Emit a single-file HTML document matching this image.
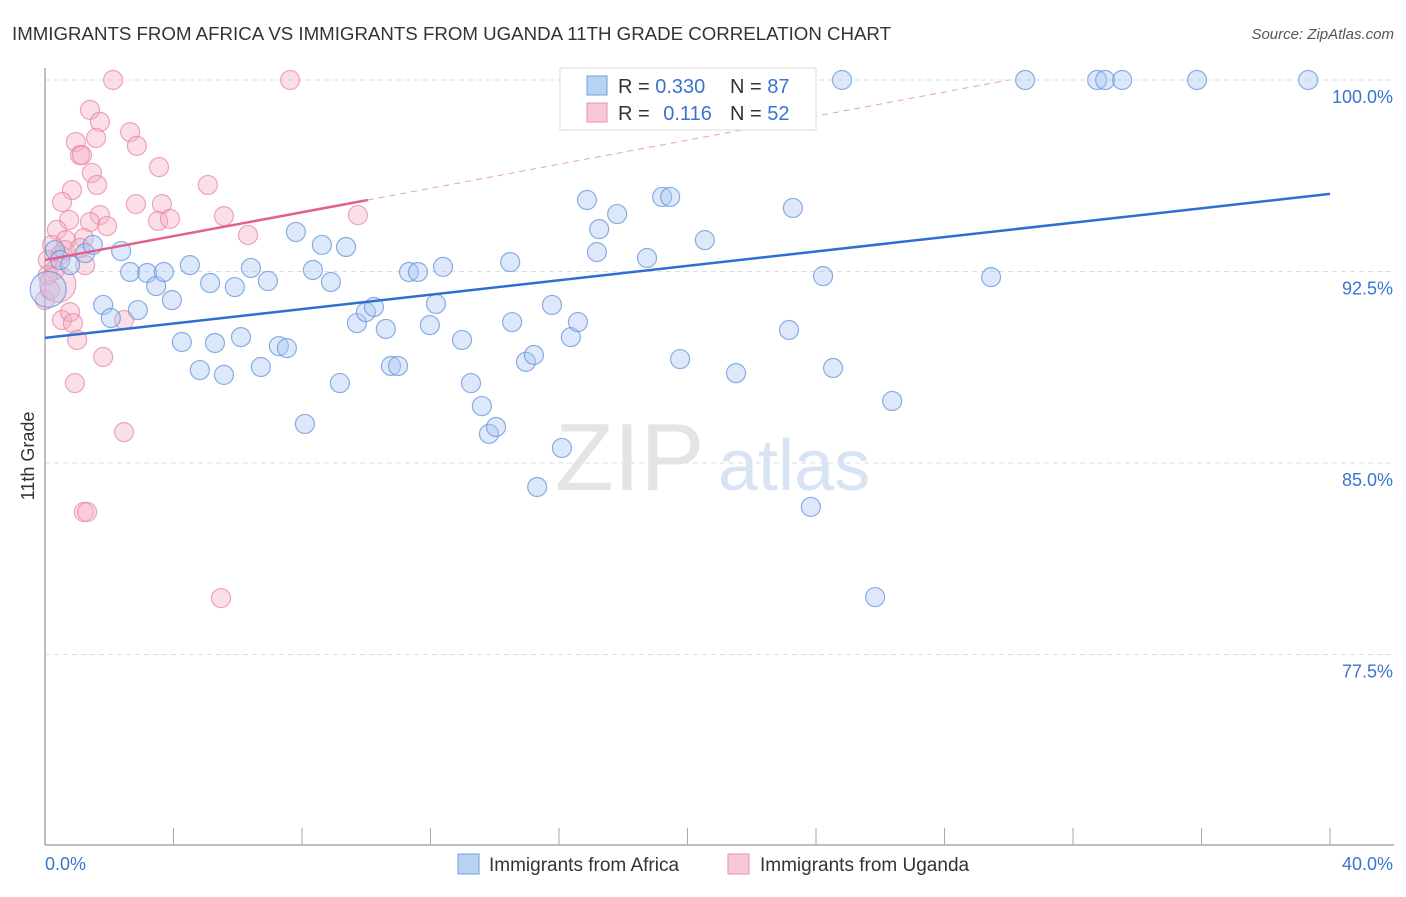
<!DOCTYPE html>
<html><head><meta charset="utf-8">
<style>
body{margin:0;background:#fff;font-family:"Liberation Sans",sans-serif;}
svg text{font-family:"Liberation Sans",sans-serif;}
</style></head>
<body>
<svg id="chart" width="1406" height="892" viewBox="0 0 1406 892" xmlns="http://www.w3.org/2000/svg">
<text x="12" y="40" font-size="18" fill="#333" textLength="879" lengthAdjust="spacingAndGlyphs">IMMIGRANTS FROM AFRICA VS IMMIGRANTS FROM UGANDA 11TH GRADE CORRELATION CHART</text>
<text x="1394" y="39" font-size="15" fill="#555" text-anchor="end" font-style="italic">Source: ZipAtlas.com</text>
<g id="grid"></g>
<g>
<text x="555" y="490" font-size="96" fill="#e4e4e4" font-family="Liberation Serif">ZIP</text>
<text x="718" y="490" font-size="72" fill="#d8e4f4">atlas</text>
</g>
<g id="axes"></g>
<g id="marks"></g>
<text transform="translate(34,456) rotate(-90)" font-size="18" fill="#333" text-anchor="middle">11th Grade</text>
<g>
<rect x="560" y="68" width="256" height="62" fill="#fff" stroke="#ddd"/>
<rect x="587" y="76" width="20" height="19" fill="#b8d2f4" stroke="#6e9ee0"/>
<text x="618" y="93" font-size="20" fill="#333">R = <tspan fill="#3a74d0">0.330</tspan></text>
<text x="730" y="93" font-size="20" fill="#333">N = <tspan fill="#3a74d0">87</tspan></text>
<rect x="587" y="103" width="20" height="19" fill="#f9c8d6" stroke="#ea8fae"/>
<text x="618" y="120" font-size="20" fill="#333">R = <tspan fill="#3a74d0" dx="8">0.116</tspan></text>
<text x="730" y="120" font-size="20" fill="#333">N = <tspan fill="#3a74d0">52</tspan></text>
</g>
<g>
<rect x="458" y="854" width="21" height="20" fill="#b8d2f4" stroke="#6e9ee0"/>
<text x="489" y="871" font-size="19" fill="#333">Immigrants from Africa</text>
<rect x="728" y="854" width="21" height="20" fill="#f9c8d6" stroke="#ea8fae"/>
<text x="760" y="871" font-size="19" fill="#333">Immigrants from Uganda</text>
</g>
</svg>
<script>
const yTicks=[100,92.5,85,77.5];
const yTickLabels=["100.0%","92.5%","85.0%","77.5%"];
const xEndLabels=["0.0%","40.0%"];
const africaX=[30.51,32.75,33.0,33.53,35.86,39.32,24.81,20.08,22.01,0.31,0.47,0.78,1.25,1.49,2.37,1.81,2.05,2.89,2.65,3.18,3.46,3.70,3.95,4.51,4.26,4.82,5.14,5.29,5.57,5.91,6.10,6.41,6.72,6.94,7.28,7.53,7.81,8.09,8.34,8.62,8.90,9.18,9.37,9.71,9.99,10.24,10.61,10.77,10.99,11.33,11.61,11.98,12.17,12.39,12.98,13.26,13.60,13.82,14.04,14.48,14.54,14.97,15.22,15.32,15.78,16.09,16.37,16.59,16.87,17.18,17.25,17.81,18.74,19.21,19.46,19.77,20.54,21.51,23.16,23.28,23.84,24.22,24.53,25.84,26.37,29.45,0.1];
const africaY=[100,100,100,100,100,100,100,100,100,93.34,92.95,92.75,93.22,93.54,93.30,91.19,90.68,90.99,92.48,92.44,91.93,92.48,91.38,92.75,89.74,88.64,92.05,89.70,88.45,91.89,89.93,92.64,88.76,92.13,89.58,89.50,94.05,86.53,92.56,93.54,92.09,88.13,93.46,90.48,90.91,91.11,90.25,88.80,88.80,92.48,92.48,90.40,91.23,92.68,89.82,88.13,87.23,86.14,86.41,92.87,90.52,88.96,89.23,84.06,91.19,85.59,89.93,90.52,95.30,93.26,94.16,94.75,93.03,95.42,95.42,89.07,93.73,88.52,90.21,94.99,83.28,92.32,88.72,79.75,87.43,92.28,91.8];
const ugandaX=[2.12,7.63,1.40,1.71,1.59,2.65,2.86,0.96,1.09,1.15,3.55,1.46,1.62,0.84,0.53,2.83,3.64,5.07,1.71,1.40,0.75,1.93,3.52,3.89,5.57,9.74,6.32,0.37,0.65,1.21,0.22,0.47,0.09,0.31,1.25,0,0.16,0.53,0.78,0.87,1.00,2.46,1.81,0.93,2.46,1.21,1.31,5.48,0.09,0.62,1.09,0.4];
const ugandaY=[100,100,98.83,98.36,97.73,97.96,97.42,97.57,97.06,97.06,96.59,96.36,95.89,95.69,95.22,95.14,95.14,95.89,94.71,94.44,94.52,94.28,94.48,94.56,94.67,94.71,93.93,94.13,93.73,93.81,93.54,93.15,92.95,92.56,92.75,91.38,91.78,90.60,90.91,90.48,89.82,90.60,89.15,88.13,86.21,83.08,83.08,79.71,92.36,93.34,93.42,92.0];
const africaTrend=[89.90,95.54];
const ugandaTrend=[92.95,95.30,100];
const ugandaTrendX=[0,10.05,30];
const NS="http://www.w3.org/2000/svg";
const xs=v=>45+v/40*1285;
const ys=v=>80+(100-v)/7.5*191.5;
function mk(t,a,p){const e=document.createElementNS(NS,t);for(const k in a)e.setAttribute(k,a[k]);p.appendChild(e);return e;}
const grid=document.getElementById('grid'),axes=document.getElementById('axes'),marks=document.getElementById('marks');
yTicks.forEach((t,i)=>{
 const l=mk('line',{x1:45,x2:1394,y1:ys(t),y2:ys(t),stroke:'#ddd','stroke-dasharray':'5,4'},grid);
 
 
 const tx=mk('text',{x:1393,y:ys(t)+23,'font-size':18,fill:'#3a74d0','text-anchor':'end'},axes);
 tx.textContent=yTickLabels[i];
 
 
});
const ya=mk('line',{x1:45,x2:45,y1:68,y2:845,stroke:'#aaa','stroke-width':1.5},axes);


const xa=mk('line',{x1:45,x2:1394,y1:845,y2:845,stroke:'#aaa','stroke-width':1.5},axes);


for(let i=1;i<=10;i++){
 const tk=mk('line',{x1:xs(i*4),x2:xs(i*4),y1:828,y2:845,stroke:'#aaa'},axes);
 
 
}
const xl0=mk('text',{x:45,y:870,'font-size':18,fill:'#3a74d0'},axes);xl0.textContent=xEndLabels[0];


const xl1=mk('text',{x:1393,y:870,'font-size':18,fill:'#3a74d0','text-anchor':'end'},axes);xl1.textContent=xEndLabels[1];


function dots(X,Y,fill,stroke,name){
 X.forEach((x,i)=>{
  const c=mk('circle',{cx:xs(x),cy:ys(Y[i]),r:(i===X.length-1?18:9.5),fill:fill,'fill-opacity':0.4,stroke:stroke,'stroke-opacity':0.7,'stroke-width':1.2},marks);
  
  
 });
}
dots(ugandaX,ugandaY,'#f5aec4','#e880a2','uganda-point');
dots(africaX,africaY,'#a9c8f2','#5b8fd8','africa-point');
const bt=mk('line',{x1:xs(0),y1:ys(africaTrend[0]),x2:xs(40),y2:ys(africaTrend[1]),stroke:'#2f6fd0','stroke-width':2.5},marks);


const pt=mk('line',{x1:xs(ugandaTrendX[0]),y1:ys(ugandaTrend[0]),x2:xs(ugandaTrendX[1]),y2:ys(ugandaTrend[1]),stroke:'#e4608c','stroke-width':2.5},marks);


const pd=mk('line',{x1:xs(ugandaTrendX[1]),y1:ys(ugandaTrend[1]),x2:xs(ugandaTrendX[2]),y2:ys(ugandaTrend[2]),stroke:'#e4a0b8','stroke-width':1,'stroke-dasharray':'6,5'},marks);


</script>
</body></html>
